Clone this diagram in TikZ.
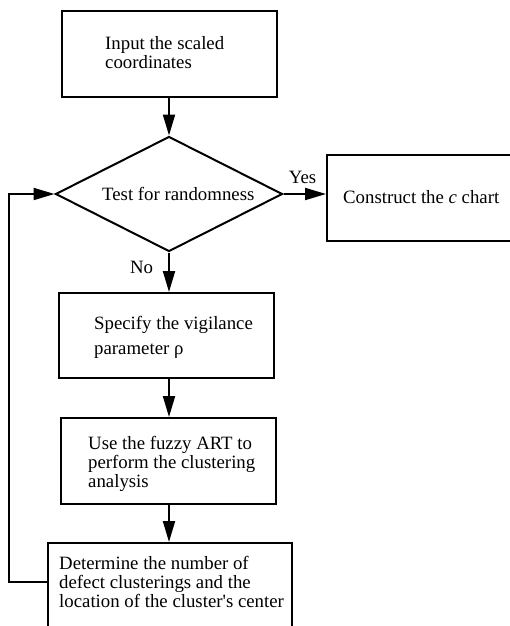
\documentclass[tikz,border=0pt]{standalone}
\usepackage{fontspec}
\setmainfont{Liberation Serif}
\usetikzlibrary{shapes.geometric,arrows.meta}
\begin{document}
\begin{tikzpicture}[x=1pt,y=-1pt,
  txt/.style={font=\fontsize{18.8}{19}\selectfont, inner sep=0pt, align=left, anchor=west},
  box/.style={draw, line width=2pt, inner sep=0pt, rectangle},
  dia/.style={draw, line width=2pt, inner sep=0pt, diamond, aspect=2},
  arr/.style={line width=2pt, -{Triangle[length=21pt,width=12pt]}},
  lab/.style={font=\fontsize{18.8}{19}\selectfont, inner sep=0pt}]
\useasboundingbox (0,0) rectangle (510,626);
\clip (0,0) rectangle (510,626);
% boxes
\node[box, minimum width=215, minimum height=86] (b1) at (169,54) {};
\node[dia, minimum width=227, minimum height=115] (d) at (169,194) {};
\node[box, minimum width=200, minimum height=86] (bc) at (427,198) {};
\node[box, minimum width=215, minimum height=85] (b3) at (166.5,335.5) {};
\node[box, minimum width=215, minimum height=86] (b4) at (168.5,461) {};
\node[box, minimum width=244, minimum height=100] (b5) at (170,593) {};
% texts
\node[txt] (t1) at (105,53) {Input the scaled\\coordinates};
\node[txt] (td) at (102,194) {Test for randomness};
\node[txt] (tc) at (343,197) {Construct the \textit{c} chart};
\node[txt] (t3) at (94,337) {Specify the vigilance\\[6pt]parameter ρ};
\node[txt] (t4) at (88,464) {Use the fuzzy ART to\\perform the clustering\\analysis};
\node[txt] (t5) at (59,582) {Determine the number of\\defect clusterings and the\\location of the cluster\textquotesingle s center};
% labels
\node[lab] (yes) at (302.5,177) {Yes};
\node[lab] (no) at (141.5,267) {No};
% connectors
\coordinate (fb) at (48,582);
\coordinate (fbc) at (9,582);
\draw[arr] (b1.south) -- (b1.south |- d.north);
\draw[arr] (d.east) -- (d.east -| bc.west);
\draw[arr] (d.south) -- (d.south |- b3.north);
\draw[arr] (d.south |- b3.south) -- (d.south |- b4.north);
\draw[arr] (d.south |- b4.south) -- (d.south |- b5.north);
\draw[arr] (fb) -- (fbc) |- (d.west);
\end{tikzpicture}
\end{document}
